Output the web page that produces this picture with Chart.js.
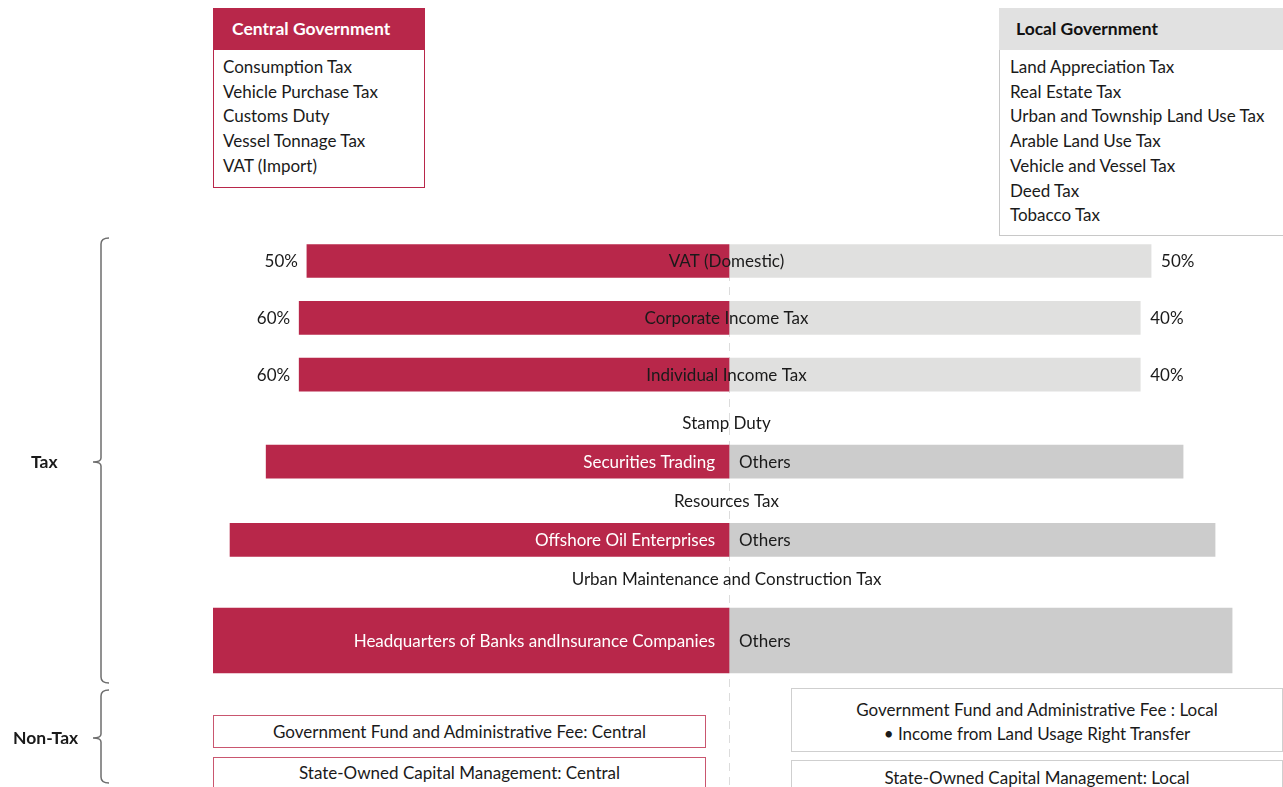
<!DOCTYPE html>
<html>
<head>
<meta charset="utf-8">
<script src="https://cdn.jsdelivr.net/npm/chart.js@4.4.1/dist/chart.umd.min.js"></script>
<style>
  html, body { margin: 0; padding: 0; background: #fff; }
  body { width: 1283px; height: 787px; position: relative; overflow: hidden;
         font-family: Lato, "Open Sans", sans-serif; color: #1a1a1a; }
  #chartWrap { position: absolute; left: 0; top: 0; width: 1283px; height: 787px; }
  .box { position: absolute; box-sizing: border-box; background: #fff; font-size: 17px; }
  .hdr { height: 42px; line-height: 42px; font-weight: bold; font-size: 17.5px; }
  .items { padding-top: 5px; }
  .items div { line-height: 24.7px; white-space: nowrap; }
  #central { left: 213px; top: 8px; width: 212px; height: 180px; border: 1px solid #b8274a; }
  #central .hdr { background: #b8274a; color: #fff; padding-left: 19px; margin: -1px -1px 0 -1px; }
  #central .items { padding-left: 9px; }
  #local { left: 999px; top: 8px; width: 300px; height: 228px; border: 1px solid #c8c8c8; }
  #local .hdr { background: #e1e1e1; color: #111; padding-left: 17px; margin: -1px -1px 0 -1px; }
  #local .items { padding-left: 10px; }
  .nt { position: absolute; box-sizing: border-box; background: #fff; text-align: center;
        font-size: 17px; white-space: nowrap; }
  .nt.c { border: 1px solid #c9566f; }
  .nt.l { border: 1px solid #cfcfcf; }
  .side { position: absolute; font-weight: bold; font-size: 17.5px; line-height: 20px; }
</style>
</head>
<body>
<div id="chartWrap"><canvas id="c"></canvas></div>

<div class="box" id="central">
  <div class="hdr" id="centralHdr"></div>
  <div class="items" id="centralItems"></div>
</div>
<div class="box" id="local">
  <div class="hdr" id="localHdr"></div>
  <div class="items" id="localItems"></div>
</div>

<div class="nt c" id="nt1" style="left:213px;top:715px;width:493px;height:33px;line-height:31px;"></div>
<div class="nt c" id="nt2" style="left:213px;top:757px;width:493px;height:40px;line-height:30px;"></div>
<div class="nt l" id="nt3" style="left:791px;top:688px;width:492px;height:64px;padding-top:9px;line-height:24px;"></div>
<div class="nt l" id="nt4" style="left:791px;top:760px;width:492px;height:40px;line-height:34px;"></div>

<div class="side" id="g1" style="left:31px;top:452px;"></div>
<div class="side" id="g2" style="left:13px;top:728px;"></div>

<script>
// ---------- DATA ----------
const centralTitle = 'Central Government';
const localTitle = 'Local Government';
const centralTaxes = ['Consumption Tax', 'Vehicle Purchase Tax', 'Customs Duty', 'Vessel Tonnage Tax', 'VAT (Import)'];
const localTaxes = ['Land Appreciation Tax', 'Real Estate Tax', 'Urban and Township Land Use Tax',
                    'Arable Land Use Tax', 'Vehicle and Vessel Tax', 'Deed Tax', 'Tobacco Tax'];

// shared-tax rows (top to bottom)
const categories = ['VAT (Domestic)', 'Corporate Income Tax', 'Individual Income Tax',
                    'Stamp Duty', 'Securities Trading',
                    'Resources Tax', 'Offshore Oil Enterprises',
                    'Urban Maintenance and Construction Tax', 'Headquarters of Banks andInsurance Companies'];
// bar lengths (relative, full half-width = 100)
const centralLength = [81.8, 83.3, 83.3, null, 89.7, null, 96.7, null, 100];
const localLength   = [81.8, 79.7, 79.7, null, 88.0, null, 94.2, null, 97.5];
const centralPct = ['50%', '60%', '60%', null, null, null, null, null, null];
const localPct   = ['50%', '40%', '40%', null, null, null, null, null, null];
const localSideLabels = [null, null, null, null, 'Others', null, 'Others', null, 'Others'];

const nonTaxCentral = ['Government Fund and Administrative Fee: Central', 'State-Owned Capital Management: Central'];
const nonTaxLocal = ['Government Fund and Administrative Fee : Local', '\u2022 Income from Land Usage Right Transfer',
                     'State-Owned Capital Management: Local'];
const groupLabels = ['Tax', 'Non-Tax'];

// ---------- HTML TEXT ----------
document.getElementById('centralHdr').textContent = centralTitle;
document.getElementById('localHdr').textContent = localTitle;
document.getElementById('centralItems').innerHTML = centralTaxes.map(t => '<div>' + t + '</div>').join('');
document.getElementById('localItems').innerHTML = localTaxes.map(t => '<div>' + t + '</div>').join('');
document.getElementById('nt1').textContent = nonTaxCentral[0];
document.getElementById('nt2').textContent = nonTaxCentral[1];
document.getElementById('nt3').innerHTML = nonTaxLocal[0] + '<br>' + nonTaxLocal[1];
document.getElementById('nt4').textContent = nonTaxLocal[2];
document.getElementById('g1').textContent = groupLabels[0];
document.getElementById('g2').textContent = groupLabels[1];

// ---------- CHART ----------
const RED = '#b8274a';
const GRAY_LIGHT = '#e0e0df';
const GRAY_DARK = '#cccccc';

// row bands (layout): ratio-shared rows, source-shared rows, bank HQ row
const bands = [
  { id: 'yA', from: 0, to: 3, weight: 170.4, thick: 33, order: 3 },
  { id: 'yB', from: 3, to: 8, weight: 195.5, thick: 33, order: 2 },
  { id: 'yC', from: 8, to: 9, weight: 84,    thick: 65, order: 1 }
];

const datasets = [];
const scales = { x: { display: false, stacked: true, min: -100, max: 100 } };
bands.forEach(b => {
  const labels = categories.slice(b.from, b.to);
  scales[b.id] = {
    type: 'category', axis: 'y', position: 'left', labels, offset: true, stacked: true,
    stack: 'rows', stackWeight: b.weight, weight: b.order,
    display: true, ticks: { display: false }, grid: { display: false }, border: { display: false },
    afterFit: (s) => { s.width = 0; }
  };
  datasets.push({
    label: 'Central', yAxisID: b.id, barThickness: b.thick, grouped: false, backgroundColor: RED,
    data: centralLength.slice(b.from, b.to).map(v => v == null ? null : -v)
  });
  datasets.push({
    label: 'Local', yAxisID: b.id, barThickness: b.thick, grouped: false,
    backgroundColor: localPct.slice(b.from, b.to).map(p => p ? GRAY_LIGHT : GRAY_DARK),
    data: localLength.slice(b.from, b.to)
  });
});

function rowPixel(chart, i) {
  const b = bands.find(bb => i >= bb.from && i < bb.to);
  return chart.scales[b.id].getPixelForValue(i - b.from);
}

const FONT = '17px Lato, "Open Sans", sans-serif';

const decorPlugin = {
  id: 'decor',
  beforeDatasetsDraw(chart) {
    const { ctx, scales: { x } } = chart;
    const x0 = Math.round(x.getPixelForValue(0)) + 0.5;
    ctx.save();
    ctx.strokeStyle = '#dcdcdc';
    ctx.lineWidth = 1;
    ctx.setLineDash([8, 6]);
    ctx.beginPath();
    ctx.moveTo(x0, rowPixel(chart, 0) - 16);
    ctx.lineTo(x0, chart.height);
    ctx.stroke();
    ctx.restore();
  },
  afterDatasetsDraw(chart) {
    const { ctx, scales: { x } } = chart;
    const x0 = x.getPixelForValue(0);
    ctx.save();
    ctx.font = FONT;
    ctx.textBaseline = 'middle';
    categories.forEach((cat, i) => {
      const yc = rowPixel(chart, i) + 1;
      if (centralLength[i] == null) {
        ctx.fillStyle = '#1a1a1a';
        ctx.textAlign = 'center';
        ctx.fillText(cat, x0 - 2.5, yc);
      } else if (centralPct[i]) {
        ctx.fillStyle = '#1a1a1a';
        ctx.textAlign = 'center';
        ctx.fillText(cat, x0 - 2.5, yc);
        ctx.textAlign = 'right';
        ctx.fillText(centralPct[i], x.getPixelForValue(-centralLength[i]) - 9, yc);
        ctx.textAlign = 'left';
        ctx.fillText(localPct[i], x.getPixelForValue(localLength[i]) + 10, yc);
      } else {
        ctx.fillStyle = '#ffffff';
        ctx.textAlign = 'right';
        ctx.fillText(cat, x0 - 14, yc);
        ctx.fillStyle = '#1a1a1a';
        ctx.textAlign = 'left';
        ctx.fillText(localSideLabels[i], x0 + 10, yc);
      }
    });
    ctx.restore();
  },
  afterDraw(chart) {
    const { ctx } = chart;
    function brace(bx, top, bottom, mid) {
      ctx.beginPath();
      ctx.moveTo(bx + 8, top);
      ctx.quadraticCurveTo(bx, top, bx, top + 6);
      ctx.lineTo(bx, mid - 4);
      ctx.quadraticCurveTo(bx, mid, bx - 8, mid);
      ctx.quadraticCurveTo(bx, mid, bx, mid + 4);
      ctx.lineTo(bx, bottom - 6);
      ctx.quadraticCurveTo(bx, bottom, bx + 8, bottom);
      ctx.stroke();
    }
    ctx.save();
    ctx.strokeStyle = '#6e6e6e';
    ctx.lineWidth = 1.5;
    brace(101, 238, 683, 462);
    brace(101, 690, 783, 738);
    ctx.restore();
  }
};

new Chart(document.getElementById('c'), {
  type: 'bar',
  data: { labels: categories, datasets },
  options: {
    indexAxis: 'y',
    responsive: true,
    maintainAspectRatio: false,
    animation: false,
    layout: { padding: { left: 213, right: 38, top: 232.6, bottom: 104.5 } },
    plugins: { legend: { display: false }, tooltip: { enabled: false } },
    scales,
    elements: { bar: { borderWidth: 0 } }
  },
  plugins: [decorPlugin]
});
</script>
</body>
</html>
